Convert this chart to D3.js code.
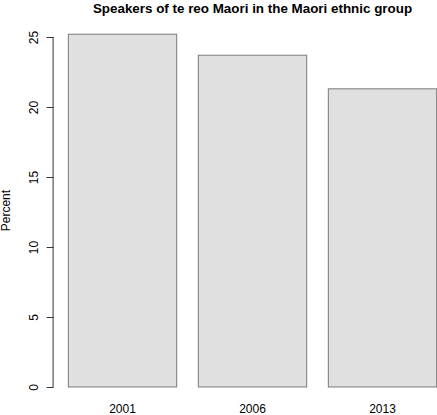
<!DOCTYPE html>
<html><head><meta charset="utf-8">
<script src="https://cdn.jsdelivr.net/npm/d3@7"></script>
<style>body{margin:0;background:#fff}svg{display:block}text{font-family:"Liberation Sans",Arial,sans-serif}</style>
</head><body>
<script>
const categories = ["2001", "2006", "2013"];
const values = [25.2, 23.7, 21.3];
const yTicks = [0, 5, 10, 15, 20, 25];
const title = "Speakers of te reo Maori in the Maori ethnic group";
const yLabel = "Percent";

const W = 437, H = 415;
const svg = d3.select("body").append("svg").attr("width", W).attr("height", H);

// Plot region (R-style, 4% extension)
const plotL = 53.6, plotR = 451.4, plotT = 20.1, plotB = 401.1;
const ymax = d3.max(values);
const y = d3.scaleLinear().domain([-0.04 * ymax, ymax * 1.04]).range([plotB, plotT]);
// bar positions: width 1, space 0.2
const lefts = categories.map((c, i) => 0.2 + i * 1.2);
const xl = 0.2, xr = 0.2 + categories.length * 1.2 - 0.2;
const ext = (xr - xl) * 0.04;
const x = d3.scaleLinear().domain([xl - ext, xr + ext]).range([plotL, plotR]);

svg.selectAll("rect.bar").data(values).join("rect")
  .attr("class", "bar")
  .attr("x", (d, i) => x(lefts[i]))
  .attr("width", (d, i) => x(lefts[i] + 1) - x(lefts[i]))
  .attr("y", d => y(d))
  .attr("height", d => y(0) - y(d))
  .attr("fill", "#e0e0e0")
  .attr("stroke", "#7a7a7a")
  .attr("stroke-width", 1);

// y axis
const ax = svg.append("g").attr("transform", `translate(${plotL},0)`)
  .call(d3.axisLeft(y).tickValues(yTicks).tickSize(7).tickPadding(9).tickFormat(d3.format("d")));
ax.select(".domain").attr("d", `M-0.5,${y(0)}V${y(25)}`).attr("stroke", "#333");
ax.selectAll(".tick line").attr("stroke", "#333");
ax.selectAll(".tick text")
  .attr("font-size", 12).attr("fill", "#000")
  .attr("transform", "rotate(-90)")
  .attr("x", 0).attr("dy", 0).attr("y", -16)
  .attr("text-anchor", "middle");

// x labels
svg.selectAll("text.xlab").data(categories).join("text")
  .attr("class", "xlab")
  .attr("x", (d, i) => x(lefts[i] + 0.5))
  .attr("y", 413)
  .attr("text-anchor", "middle")
  .attr("font-size", 12)
  .text(d => d);

// title
svg.append("text")
  .attr("x", (plotL + plotR) / 2).attr("y", 13)
  .attr("text-anchor", "middle")
  .attr("font-size", 13.4).attr("font-weight", "bold")
  .text(title);

// y label
svg.append("text")
  .attr("transform", `translate(10,${(plotT + plotB) / 2}) rotate(-90)`)
  .attr("text-anchor", "middle")
  .attr("font-size", 12)
  .text(yLabel);
</script>
</body></html>
